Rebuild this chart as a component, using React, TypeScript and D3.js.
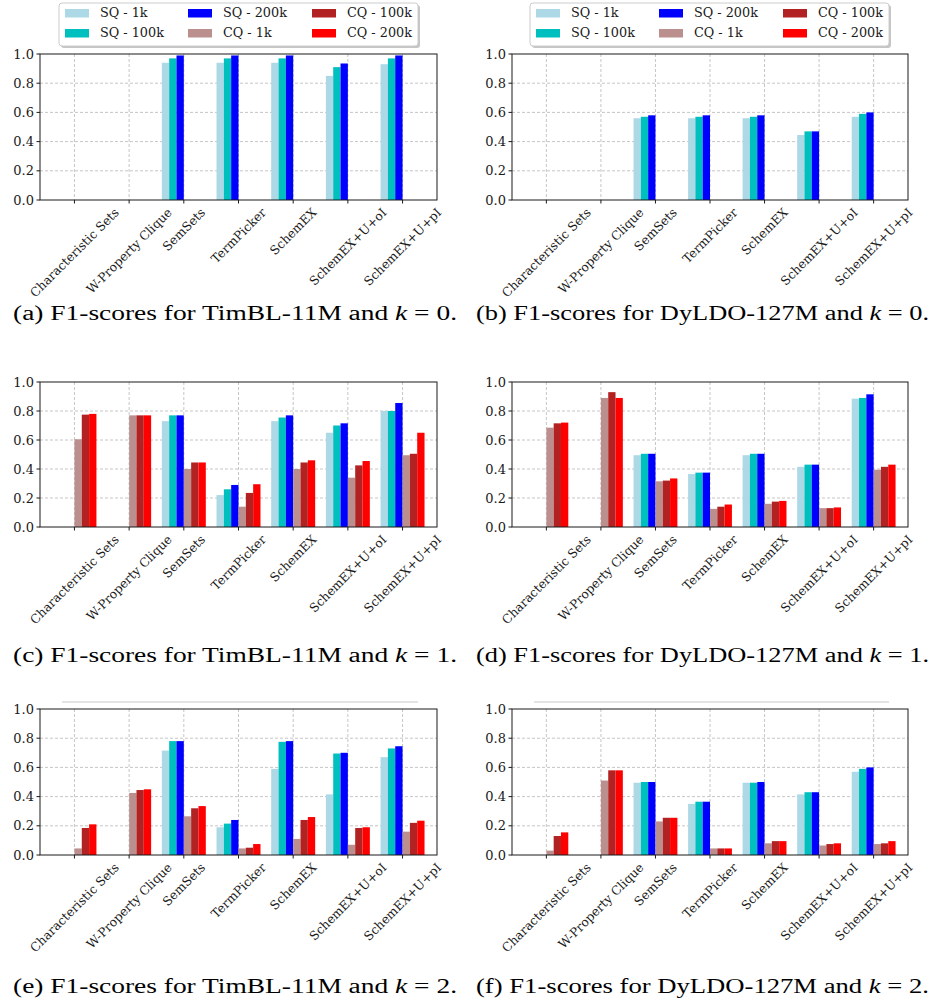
import * as d3 from 'd3';
import React, { useEffect, useRef } from 'react';

const categories = [
  'Characteristic Sets',
  'W-Property Clique',
  'SemSets',
  'TermPicker',
  'SchemEX',
  'SchemEX+U+oI',
  'SchemEX+U+pI',
];
const seriesNames = ['SQ - 1k', 'SQ - 100k', 'SQ - 200k', 'CQ - 1k', 'CQ - 100k', 'CQ - 200k'];
const seriesColors = ['#add8e6', '#00bfbf', '#0000ff', '#bc8f8f', '#b22222', '#ff0000'];
const yTicks = [0, 0.2, 0.4, 0.6, 0.8, 1.0];

// one row per series, one value per category
const timblK0 = [
  [0, 0, 0.94, 0.94, 0.94, 0.85, 0.93],
  [0, 0, 0.97, 0.97, 0.97, 0.91, 0.97],
  [0, 0, 0.99, 0.99, 0.99, 0.935, 0.99],
  [0, 0, 0, 0, 0, 0, 0],
  [0, 0, 0, 0, 0, 0, 0],
  [0, 0, 0, 0, 0, 0, 0],
];
const dyldoK0 = [
  [0, 0, 0.56, 0.56, 0.56, 0.445, 0.57],
  [0, 0, 0.57, 0.57, 0.57, 0.47, 0.59],
  [0, 0, 0.58, 0.58, 0.58, 0.47, 0.6],
  [0, 0, 0, 0, 0, 0, 0],
  [0, 0, 0, 0, 0, 0, 0],
  [0, 0, 0, 0, 0, 0, 0],
];
const timblK1 = [
  [0, 0, 0.73, 0.22, 0.73, 0.65, 0.8],
  [0, 0, 0.77, 0.26, 0.755, 0.7, 0.8],
  [0, 0, 0.77, 0.29, 0.77, 0.715, 0.855],
  [0.605, 0.77, 0.4, 0.14, 0.4, 0.34, 0.495],
  [0.775, 0.77, 0.445, 0.235, 0.445, 0.425, 0.505],
  [0.78, 0.77, 0.445, 0.295, 0.46, 0.455, 0.65],
];
const dyldoK1 = [
  [0, 0, 0.495, 0.365, 0.495, 0.415, 0.885],
  [0, 0, 0.505, 0.375, 0.505, 0.43, 0.89],
  [0, 0, 0.505, 0.375, 0.505, 0.43, 0.915],
  [0.685, 0.89, 0.315, 0.125, 0.16, 0.13, 0.395],
  [0.715, 0.93, 0.32, 0.14, 0.175, 0.13, 0.415],
  [0.72, 0.89, 0.335, 0.155, 0.18, 0.135, 0.43],
];
const timblK2 = [
  [0, 0, 0.715, 0.19, 0.59, 0.415, 0.67],
  [0, 0, 0.78, 0.215, 0.775, 0.695, 0.73],
  [0, 0, 0.78, 0.24, 0.78, 0.7, 0.745],
  [0.045, 0.425, 0.265, 0.045, 0.11, 0.07, 0.16],
  [0.185, 0.445, 0.32, 0.05, 0.24, 0.185, 0.22],
  [0.21, 0.45, 0.335, 0.075, 0.26, 0.19, 0.235],
];
const dyldoK2 = [
  [0, 0, 0.495, 0.35, 0.495, 0.415, 0.57],
  [0, 0, 0.5, 0.365, 0.495, 0.43, 0.59],
  [0, 0, 0.5, 0.365, 0.5, 0.43, 0.6],
  [0.03, 0.51, 0.23, 0.045, 0.08, 0.065, 0.075],
  [0.13, 0.58, 0.255, 0.045, 0.095, 0.075, 0.08],
  [0.155, 0.58, 0.255, 0.045, 0.095, 0.08, 0.095],
];

const panels = [
  { data: timblK0, tag: '(a)', dataset: 'TimBL-11M', k: '0', col: 0, row: 0 },
  { data: dyldoK0, tag: '(b)', dataset: 'DyLDO-127M', k: '0', col: 1, row: 0 },
  { data: timblK1, tag: '(c)', dataset: 'TimBL-11M', k: '1', col: 0, row: 1 },
  { data: dyldoK1, tag: '(d)', dataset: 'DyLDO-127M', k: '1', col: 1, row: 1 },
  { data: timblK2, tag: '(e)', dataset: 'TimBL-11M', k: '2', col: 0, row: 2 },
  { data: dyldoK2, tag: '(f)', dataset: 'DyLDO-127M', k: '2', col: 1, row: 2 },
];

const COLS = [
  { x0: 40, x1: 437, capX: 13, capW: 444, legX: 59, ruleX0: 62, ruleX1: 418 },
  { x0: 512, x1: 908, capX: 476, capW: 453, legX: 530, ruleX0: 534, ruleX1: 889 },
];
const ROWS = [
  { y0: 54, y1: 200, capY: 320 },
  { y0: 382, y1: 527, capY: 662 },
  { y0: 709, y1: 855, capY: 993 },
];

const TICK_FONT = 'DejaVu Serif';
const INK = '#1a1a1a';

const App = () => {
  const svgRef = useRef(null);

  useEffect(() => {
    const svg = d3.select(svgRef.current);
    svg.selectAll('*').remove();

    panels.forEach((p) => {
      const c = COLS[p.col];
      const r = ROWS[p.row];
      const g = svg.append('g');

      const x = d3.scalePoint().domain(categories).range([c.x0, c.x1]).padding(0.63);
      const y = d3.scaleLinear().domain([0, 1]).range([r.y1, r.y0]);
      const barW = x.step() * 0.134;

      // grid
      g.selectAll('.hgrid')
        .data(yTicks.slice(1, -1))
        .enter()
        .append('line')
        .attr('x1', c.x0)
        .attr('x2', c.x1)
        .attr('y1', (d) => y(d))
        .attr('y2', (d) => y(d))
        .attr('stroke', '#b8b8b8')
        .attr('stroke-width', 0.8)
        .attr('stroke-dasharray', '3,2');
      g.selectAll('.vgrid')
        .data(categories)
        .enter()
        .append('line')
        .attr('x1', (d) => x(d))
        .attr('x2', (d) => x(d))
        .attr('y1', r.y0)
        .attr('y2', r.y1)
        .attr('stroke', '#b8b8b8')
        .attr('stroke-width', 0.8)
        .attr('stroke-dasharray', '3,2');

      // bars
      p.data.forEach((vals, si) => {
        g.selectAll(`.bar${si}`)
          .data(vals.map((v, ci) => ({ v, cat: categories[ci] })))
          .enter()
          .append('rect')
          .attr('x', (d) => x(d.cat) + (si - 3) * barW)
          .attr('width', barW)
          .attr('y', (d) => y(d.v))
          .attr('height', (d) => y(0) - y(d.v))
          .attr('fill', seriesColors[si]);
      });

      // frame
      g.append('rect')
        .attr('x', c.x0)
        .attr('y', r.y0)
        .attr('width', c.x1 - c.x0)
        .attr('height', r.y1 - r.y0)
        .attr('fill', 'none')
        .attr('stroke', INK)
        .attr('stroke-width', 1);

      // y axis ticks + labels
      yTicks.forEach((t) => {
        g.append('line')
          .attr('x1', c.x0 - 3.5)
          .attr('x2', c.x0)
          .attr('y1', y(t))
          .attr('y2', y(t))
          .attr('stroke', INK);
        g.append('text')
          .attr('x', c.x0 - 6)
          .attr('y', y(t))
          .attr('dy', '0.35em')
          .attr('text-anchor', 'end')
          .attr('font-family', TICK_FONT)
          .attr('font-size', 13)
          .attr('fill', INK)
          .text(t.toFixed(1));
      });

      // x ticks + rotated labels (centred on tick, like ha='center')
      categories.forEach((cat) => {
        const tx = x(cat);
        g.append('line')
          .attr('x1', tx)
          .attr('x2', tx)
          .attr('y1', r.y1)
          .attr('y2', r.y1 + 3.5)
          .attr('stroke', INK);
        const lbl = g
          .append('text')
          .attr('text-anchor', 'middle')
          .attr('dy', '0.35em')
          .attr('font-family', TICK_FONT)
          .attr('font-size', 12.3)
          .attr('fill', INK)
          .text(cat);
        const L = (lbl.node() as SVGTextElement).getComputedTextLength();
        const half = ((L + 12) / 2) * Math.SQRT1_2;
        lbl.attr('transform', `translate(${tx},${r.y1 + 6 + half}) rotate(-45)`);
      });

      // leftover rule above bottom row
      if (p.row === 2) {
        g.append('line')
          .attr('x1', c.ruleX0)
          .attr('x2', c.ruleX1)
          .attr('y1', 702)
          .attr('y2', 702)
          .attr('stroke', '#c8c8c8')
          .attr('stroke-width', 1);
      }

      // legend on top row
      if (p.row === 0) {
        const lg = svg.append('g').attr('transform', `translate(${c.legX},3)`);
        lg.append('rect')
          .attr('x', 2)
          .attr('y', 2)
          .attr('width', 359)
          .attr('height', 43)
          .attr('rx', 3)
          .attr('fill', '#8c8c8c')
          .attr('opacity', 0.5);
        lg.append('rect')
          .attr('width', 359)
          .attr('height', 43)
          .attr('rx', 3)
          .attr('fill', '#fff')
          .attr('stroke', '#cccccc');
        const colX = [6, 129, 253];
        seriesNames.forEach((name, i) => {
          const cx = colX[Math.floor(i / 2)];
          const cy = i % 2 === 0 ? 10 : 30;
          lg.append('rect')
            .attr('x', cx)
            .attr('y', cy - 4)
            .attr('width', 24)
            .attr('height', 8.5)
            .attr('fill', seriesColors[i]);
          lg.append('text')
            .attr('x', cx + 35)
            .attr('y', cy)
            .attr('dy', '0.35em')
            .attr('font-family', TICK_FONT)
            .attr('font-size', 12.8)
            .attr('fill', INK)
            .text(name);
        });
      }

      // caption
      const cap = svg
        .append('text')
        .attr('x', c.capX)
        .attr('y', r.capY)
        .attr('font-family', 'Liberation Serif')
        .attr('font-size', 20.5)
        .attr('fill', '#000')
        .attr('textLength', c.capW)
        .attr('lengthAdjust', 'spacingAndGlyphs');
      cap.append('tspan').text(`${p.tag} F1-scores for ${p.dataset} and `);
      cap.append('tspan').attr('font-style', 'italic').text('k');
      cap.append('tspan').text(` = ${p.k}.`);
    });
  }, []);

  return (
    <svg
      ref={svgRef}
      width={933}
      height={1003}
      style={{ position: 'absolute', left: 0, top: 0, background: '#fff' }}
    />
  );
};

export default App;
